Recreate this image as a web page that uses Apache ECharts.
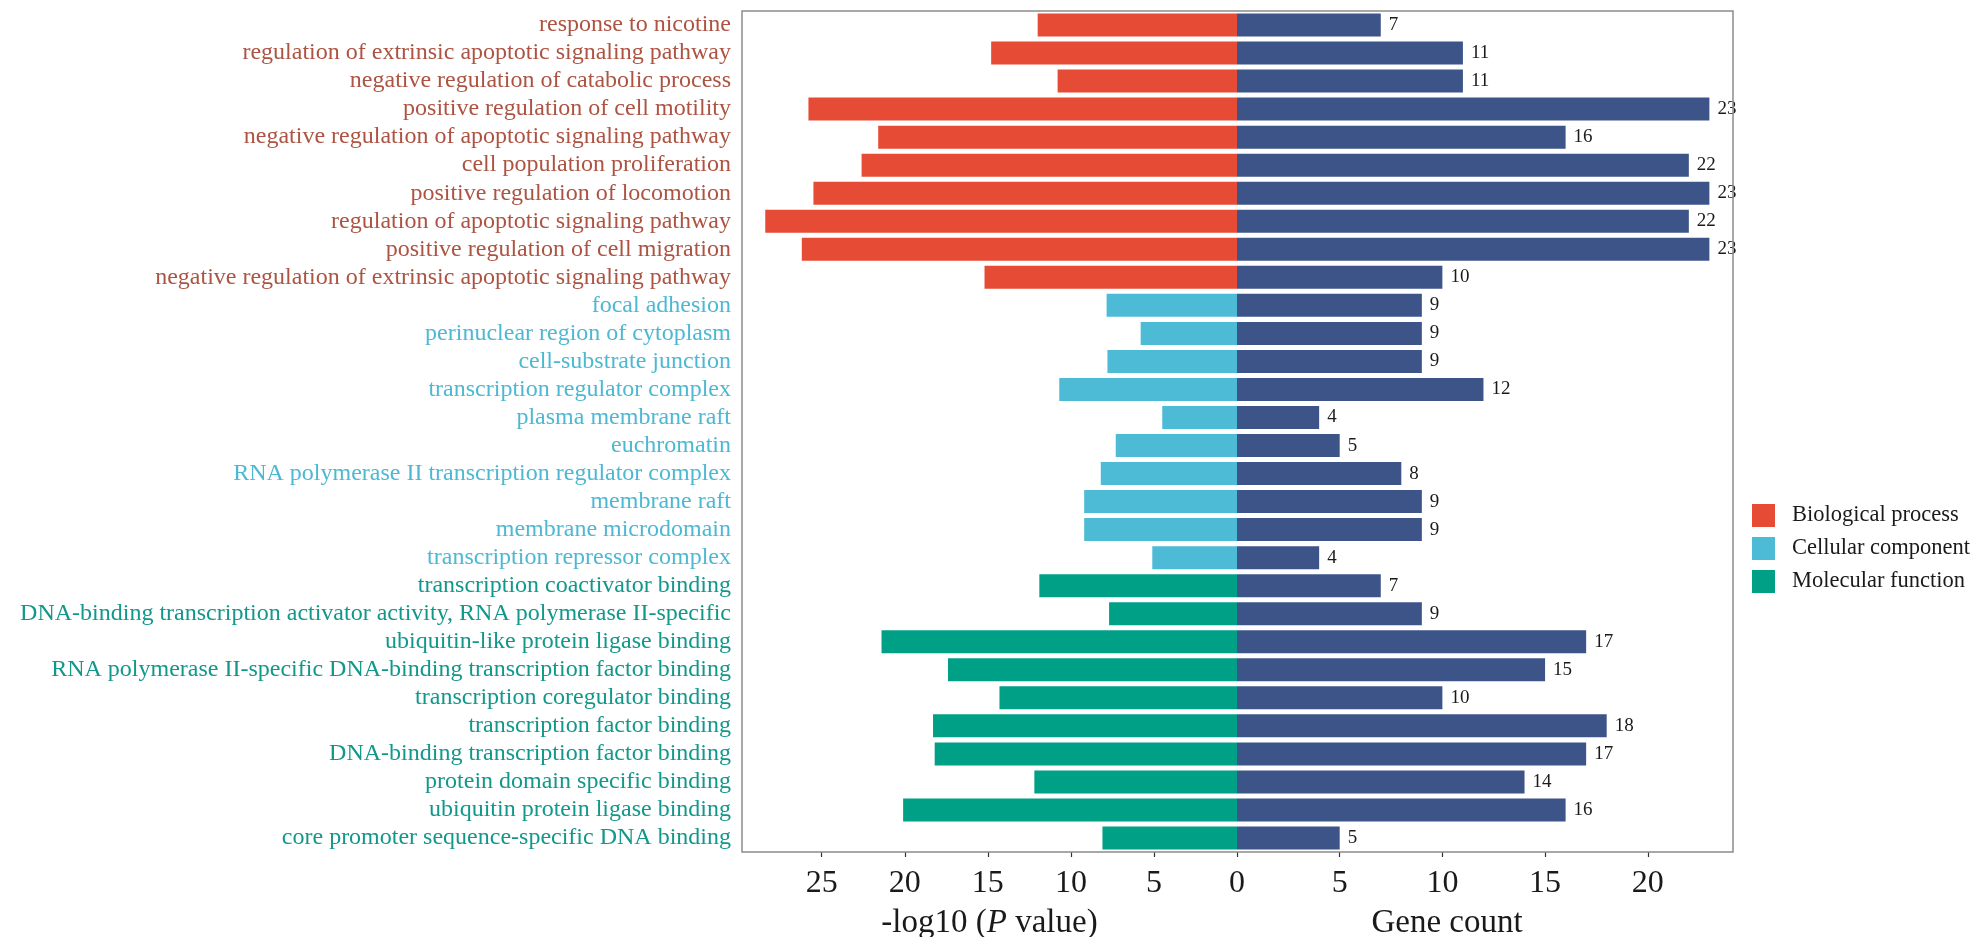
<!DOCTYPE html>
<html>
<head>
<meta charset="utf-8">
<script src="https://cdn.jsdelivr.net/npm/echarts@6/dist/echarts.min.js"></script>
<style>
  html, body { margin: 0; padding: 0; background: #fff; }
  #chart { width: 1975px; height: 937px; }
</style>
</head>
<body>
<div id="chart"></div>
<script>
// GO terms, top to bottom
const terms = [
    'response to nicotine',
    'regulation of extrinsic apoptotic signaling pathway',
    'negative regulation of catabolic process',
    'positive regulation of cell motility',
    'negative regulation of apoptotic signaling pathway',
    'cell population proliferation',
    'positive regulation of locomotion',
    'regulation of apoptotic signaling pathway',
    'positive regulation of cell migration',
    'negative regulation of extrinsic apoptotic signaling pathway',
    'focal adhesion',
    'perinuclear region of cytoplasm',
    'cell-substrate junction',
    'transcription regulator complex',
    'plasma membrane raft',
    'euchromatin',
    'RNA polymerase II transcription regulator complex',
    'membrane raft',
    'membrane microdomain',
    'transcription repressor complex',
    'transcription coactivator binding',
    'DNA-binding transcription activator activity, RNA polymerase II-specific',
    'ubiquitin-like protein ligase binding',
    'RNA polymerase II-specific DNA-binding transcription factor binding',
    'transcription coregulator binding',
    'transcription factor binding',
    'DNA-binding transcription factor binding',
    'protein domain specific binding',
    'ubiquitin protein ligase binding',
    'core promoter sequence-specific DNA binding'
];

// 0 = BP, 1 = CC, 2 = MF
const termGroup = [
    0, 0, 0, 0, 0, 0, 0, 0, 0, 0,
    1, 1, 1, 1, 1, 1, 1, 1, 1, 1,
    2, 2, 2, 2, 2, 2, 2, 2, 2, 2
];

const groupNames = ['Biological process', 'Cellular component', 'Molecular function'];

// -log10(P value)
const logP = [
    12.0, 14.8, 10.8, 25.8, 21.6, 22.6, 25.5, 28.4, 26.2, 15.2,
    7.85, 5.8, 7.8, 10.7, 4.5, 7.3, 8.2, 9.2, 9.2, 5.1,
    11.9, 7.7, 21.4, 17.4, 14.3, 18.3, 18.2, 12.2, 20.1, 8.1
];

const geneCount = [
    7, 11, 11, 23, 16, 22, 23, 22, 23, 10,
    9, 9, 9, 12, 4, 5, 8, 9, 9, 4,
    7, 9, 17, 15, 10, 18, 17, 14, 16, 5
];

const leftTicks = [0, 5, 10, 15, 20, 25];
const rightTicks = [5, 10, 15, 20];

const barColors = ['#E64B35', '#4DBBD5', '#00A087'];
const labelColors = ['#AD5342', '#4DB8D2', '#11988A'];
const countColor = '#3C5488';
const font = 'Liberation Serif';

// Panel box
const plotLeft = 742;
const plotZero = 1237;
const plotRight = 1733;
const plotTop = 11;
const plotBottom = 852;

const chart = echarts.init(document.querySelector('#chart'));

// One series per GO group, with gaps where a term belongs to another group
const groupSeries = groupNames.map((name, g) => ({
    name: name,
    type: 'bar',
    xAxisIndex: 0,
    yAxisIndex: 0,
    stack: 'p',
    barWidth: '82%',
    itemStyle: { color: barColors[g] },
    data: logP.map((v, i) => termGroup[i] === g ? v : '-')
}));

const rich = {};
labelColors.forEach((c, g) => {
    rich['g' + g] = { color: c, fontFamily: font, fontSize: 24 };
});

const tickLabelStyle = { color: '#1a1a1a', fontFamily: font, fontSize: 32, margin: 16 };
const tickStyle = { show: true, length: 5, lineStyle: { color: '#333', width: 1.2 } };

const option = {
    animation: false,
    backgroundColor: '#fff',
    grid: [
        { left: plotLeft, width: plotZero - plotLeft, top: plotTop, height: plotBottom - plotTop, outerBoundsMode: 'none' },
        { left: plotZero, width: plotRight - plotZero, top: plotTop, height: plotBottom - plotTop, outerBoundsMode: 'none' }
    ],
    legend: {
        data: groupNames,
        orient: 'vertical',
        left: 1747,
        top: 499,
        itemWidth: 23,
        itemHeight: 23,
        itemGap: 10,
        icon: 'rect',
        textStyle: { fontFamily: font, fontSize: 22.5, color: '#1a1a1a', padding: [0, 0, 0, 12] }
    },
    xAxis: [
        {
            type: 'value',
            gridIndex: 0,
            inverse: true,
            min: 0,
            max: 29.8,
            interval: 5,
            splitLine: { show: false },
            axisLine: { show: false },
            axisTick: Object.assign({ customValues: leftTicks }, tickStyle),
            axisLabel: Object.assign({ customValues: leftTicks }, tickLabelStyle),
            name: '-log10 ({i|P} value)',
            nameLocation: 'middle',
            nameGap: 55,
            nameTextStyle: {
                fontFamily: font, fontSize: 33, color: '#1a1a1a',
                rich: { i: { fontFamily: font, fontSize: 33, fontStyle: 'italic', color: '#1a1a1a' } }
            }
        },
        {
            type: 'value',
            gridIndex: 1,
            min: 0,
            max: 24.15,
            interval: 5,
            splitLine: { show: false },
            axisLine: { show: false },
            axisTick: Object.assign({ customValues: rightTicks }, tickStyle),
            axisLabel: Object.assign({ customValues: rightTicks }, tickLabelStyle),
            name: 'Gene count',
            nameLocation: 'middle',
            nameGap: 55,
            nameTextStyle: { fontFamily: font, fontSize: 33, color: '#1a1a1a', padding: [0, 76, 0, 0] }
        }
    ],
    yAxis: [
        {
            type: 'category',
            gridIndex: 0,
            data: terms,
            inverse: true,
            axisLine: { show: false },
            axisTick: { show: true, length: 5, alignWithLabel: true, lineStyle: { color: '#333', width: 1.2 } },
            axisLabel: {
                margin: 11,
                interval: 0,
                formatter: (value, idx) => '{g' + termGroup[idx] + '|' + value + '}',
                rich: rich
            }
        },
        {
            type: 'category',
            gridIndex: 1,
            data: terms,
            inverse: true,
            axisLine: { show: false },
            axisTick: { show: false },
            axisLabel: { show: false }
        }
    ],
    series: groupSeries.concat([{
        name: 'Gene count',
        type: 'bar',
        xAxisIndex: 1,
        yAxisIndex: 1,
        barWidth: '82%',
        itemStyle: { color: countColor },
        label: {
            show: true,
            position: 'right',
            distance: 8,
            color: '#1a1a1a',
            fontFamily: font,
            fontSize: 19
        },
        data: geneCount
    }]),
    graphic: [{
        type: 'rect',
        z: 100,
        silent: true,
        shape: { x: plotLeft, y: plotTop, width: plotRight - plotLeft, height: plotBottom - plotTop },
        style: { fill: 'none', stroke: '#8c8c8c', lineWidth: 1.5 }
    }]
};

chart.setOption(option);
</script>
</body>
</html>
